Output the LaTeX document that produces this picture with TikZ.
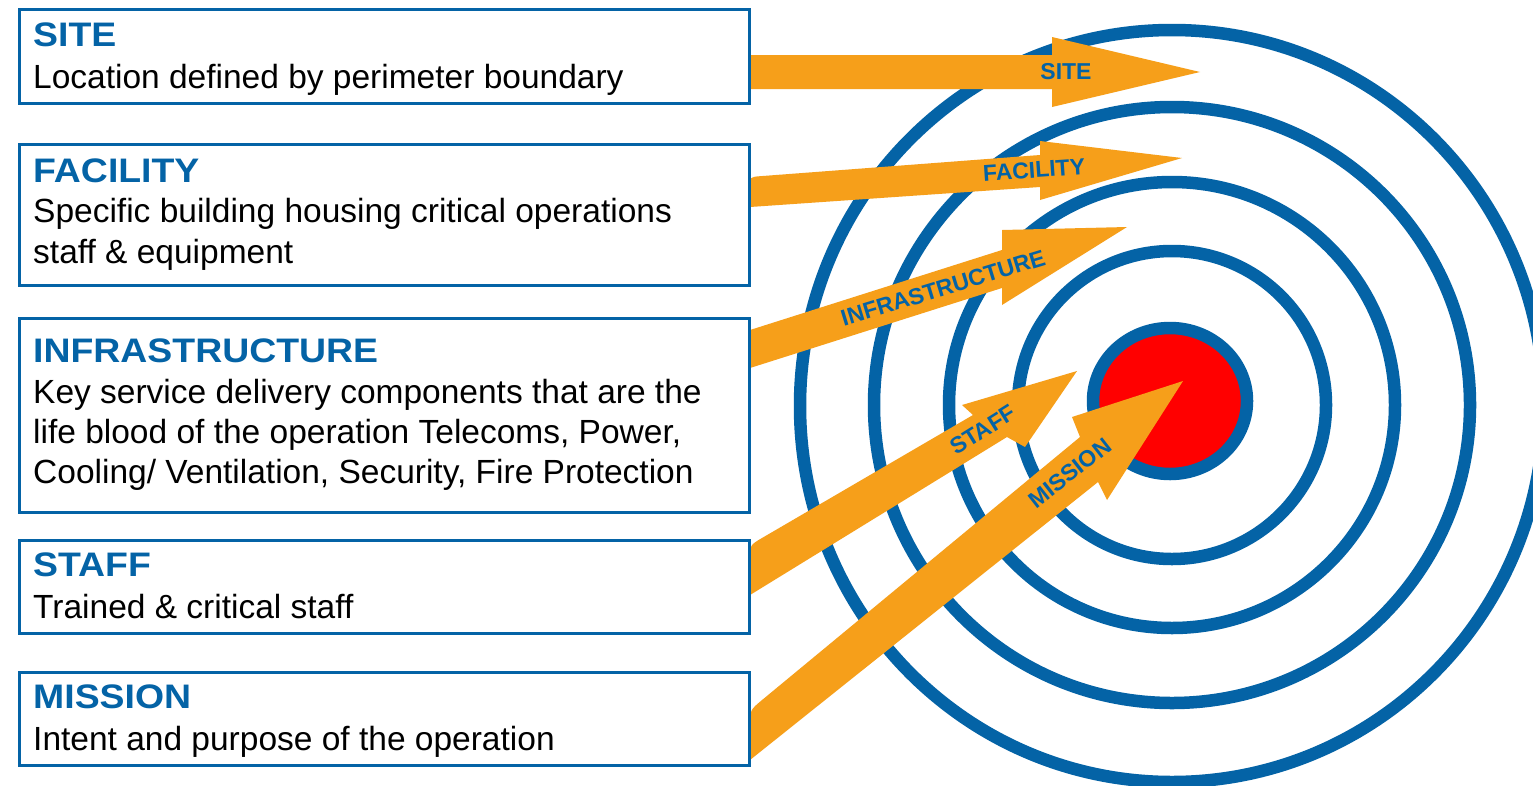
\documentclass[tikz,border=0pt]{standalone}
\usepackage{fontspec}
\setmainfont{Liberation Sans}
\newfontfamily\titlefont[FakeStretch=1.1]{Liberation Sans}
\definecolor{tblue}{RGB}{4,99,166}
\definecolor{torange}{RGB}{246,159,26}
\definecolor{tred}{RGB}{255,0,0}
\tikzset{
  box/.style={draw=tblue, line width=3pt, fill=white, rectangle, inner sep=0pt, anchor=north west, minimum width=730pt},
  ring/.style={draw=tblue, line width=12.5pt},
  arrowbody/.style={fill=torange, draw=none},
  ttl/.style={anchor=base west, inner sep=0pt, font=\titlefont\bfseries\fontsize{34}{40}\selectfont, text=tblue},
  txt/.style={anchor=base west, inner sep=0pt, font=\fontsize{33.5}{40}\selectfont, text=black},
  lbl/.style={inner sep=0pt, font=\bfseries\fontsize{23}{26}\selectfont, text=tblue},
}
\begin{document}
\begin{tikzpicture}[x=1pt,y=-1pt]
\useasboundingbox (0,0) rectangle (1533,785);
\fill[white] (0,0) rectangle (1533,785);
% target rings
\draw[ring] (1172,406) circle[x radius=372pt, y radius=376pt];
\draw[ring] (1172,405) circle[radius=298pt];
\draw[ring] (1172,405) circle[radius=223pt];
\draw[ring] (1172,405) circle[radius=154pt];
\draw[ring, fill=tred] (1170,401) circle[x radius=77pt, y radius=73pt];
% arrows
\fill[arrowbody] (750,55) -- (1052,55) -- (1052,37) -- (1200,72) -- (1052,107) -- (1052,89) -- (750,89) -- cycle;
\fill[arrowbody] (750,207) -- (750,187) .. controls (750,177) .. (760,176.2) -- (1040,155) -- (1040,141) -- (1182,158) -- (1040,200) -- (1040,187) -- cycle;
\fill[arrowbody] (750,368) -- (750,330) -- (1002,250) -- (1002,230) -- (1127,227) -- (1002,305) -- (1002,288) -- cycle;
\fill[arrowbody] (750,595) -- (750,559) .. controls (750,545) .. (762,538) -- (973,415) -- (962,405) -- (1077,371) -- (1025,447) -- (1007,437) -- cycle;
\fill[arrowbody] (750,760) -- (750,726) .. controls (750,710) .. (762.3,699.8) -- (1080,437) -- (1072,417) -- (1183,381) -- (1107,500) -- (1098,482) -- cycle;
% arrow labels
\node[lbl] (lsite) at (1066,72) {SITE};
\node[lbl, rotate=4] (lfac) at (1034,170) {FACILITY};
\node[lbl, rotate=17] (linf) at (943,288) {INFRASTRUCTURE};
\node[lbl, rotate=32] (lstaff) at (983,430) {STAFF};
\node[lbl, rotate=38] (lmis) at (1070,473) {MISSION};
% boxes
\node[box, minimum height=94pt] (bsite) at (18,8) {};
\node[box, minimum height=141pt] (bfac) at (18,143) {};
\node[box, minimum height=194pt] (binf) at (18,317) {};
\node[box, minimum height=93pt] (bstaff) at (18,539) {};
\node[box, minimum height=93pt] (bmis) at (18,671) {};
% texts
\node[ttl] (tsite) at (33,46) {SITE};
\node[txt] (dsite) at (33,88) {Location defined by perimeter boundary};
\node[ttl] (tfac) at (33,182) {FACILITY};
\node[txt] (dfac1) at (33,222) {Specific building housing critical operations};
\node[txt] (dfac2) at (33,263) {staff \& equipment};
\node[ttl] (tinf) at (33,362) {INFRASTRUCTURE};
\node[txt] (dinf1) at (33,403) {Key service delivery components that are the};
\node[txt] (dinf2) at (33,443) {life blood of the operation Telecoms, Power,};
\node[txt] (dinf3) at (33,483) {Cooling/ Ventilation, Security, Fire Protection};
\node[ttl] (tstaff) at (33,576) {STAFF};
\node[txt] (dstaff) at (33,618) {Trained \& critical staff};
\node[ttl] (tmis) at (33,708) {MISSION};
\node[txt] (dmis) at (33,750) {Intent and purpose of the operation};
\end{tikzpicture}
\end{document}
